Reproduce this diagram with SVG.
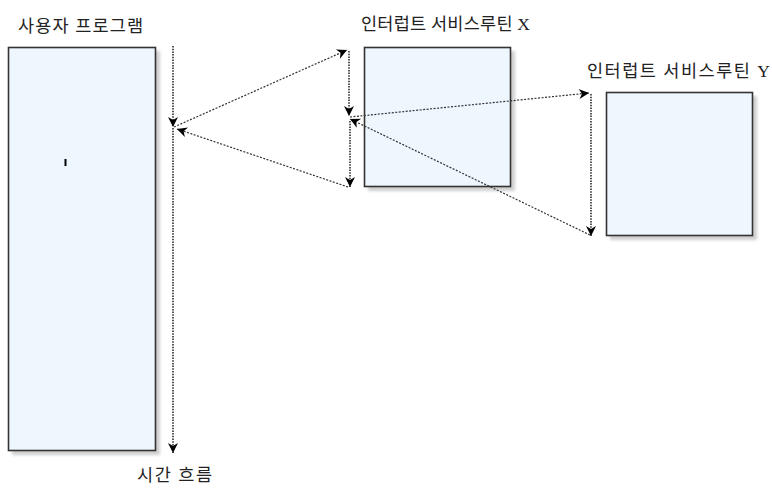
<svg xmlns="http://www.w3.org/2000/svg" width="772" height="489" viewBox="0 0 772 489">
<style>
.box{fill:#eef6fe;stroke:#333;stroke-width:1.6}
.sh{fill:#bbb;filter:url(#blur);opacity:0.7}
.lbl{font-family:"Liberation Serif","Noto Sans CJK KR",serif;font-size:17.5px;fill:#222}
.c{fill:none;stroke:#333;stroke-width:1.2;stroke-dasharray:2 1.5;marker-end:url(#ah)}
.v{stroke-width:1.8;stroke:#444;stroke-dasharray:1.5 1.2}
</style>
<defs>
<filter id="blur" x="-10%" y="-10%" width="120%" height="120%"><feGaussianBlur stdDeviation="1.5"/></filter>
<marker id="ah" markerUnits="userSpaceOnUse" markerWidth="12" markerHeight="12" viewBox="0 0 12 12" refX="11" refY="6" orient="auto">
<path d="M1,1 L11,6 L1,11 L4,6 Z" fill="#000"/>
</marker>
</defs>
<rect width="772" height="489" fill="#fff"/>
<g id="user">
<rect class="sh" x="12" y="51" width="148" height="404"/>
<rect class="box" x="8.5" y="47.5" width="147" height="403"/>
<line x1="65.5" y1="159" x2="65.5" y2="166" stroke="#000" stroke-width="2"/>
<text class="lbl" x="18" y="32" textLength="125" lengthAdjust="spacing">사용자 프로그램</text>
</g>
<g id="isrX">
<rect class="sh" x="368" y="51" width="147" height="140"/>
<rect class="box" x="364.5" y="47.5" width="146" height="139"/>
<text class="lbl" x="361" y="30" textLength="169" lengthAdjust="spacing">인터럽트 서비스루틴 X</text>
</g>
<g id="isrY">
<rect class="sh" x="610" y="96" width="147" height="144"/>
<rect class="box" x="606.5" y="92.5" width="146" height="143"/>
<text class="lbl" x="587" y="77" textLength="183" lengthAdjust="spacing">인터럽트 서비스루틴 Y</text>
</g>
<g id="time">
<text class="lbl" x="137" y="481" textLength="75" lengthAdjust="spacing">시간 흐름</text>
</g>
<g id="connectors">
<path class="c v" d="M173,46 L173,127"/>
<path class="c v" d="M173,128 L173,453"/>
<path class="c" d="M174,127 L347,50"/>
<path class="c v" d="M349,51 L349,116"/>
<path class="c" d="M350,117 L589,93"/>
<path class="c v" d="M591,94 L591,236"/>
<path class="c" d="M590,235 L350,119"/>
<path class="c v" d="M350,121 L350,187"/>
<path class="c" d="M348,187 L177,129"/>
</g>
</svg>
